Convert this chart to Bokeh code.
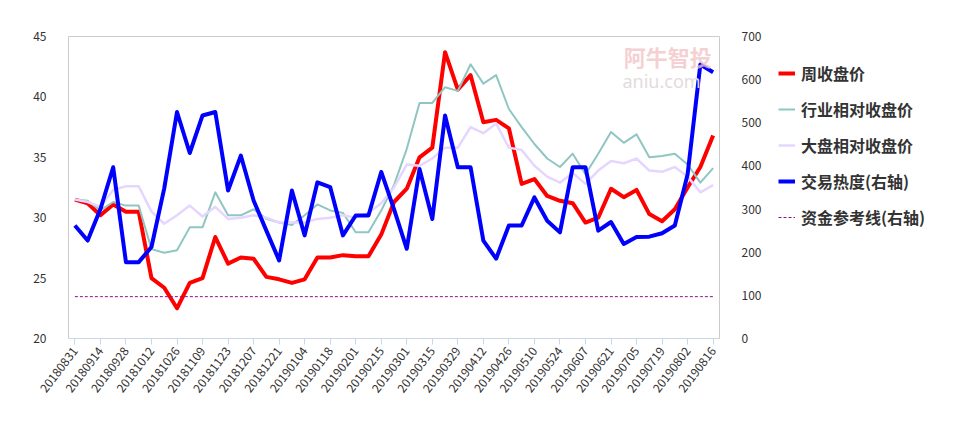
from bokeh.plotting import figure
from bokeh.models import (Range1d, LinearAxis, FixedTicker, Legend, LegendItem, Label)
from bokeh.layouts import row
from bokeh.embed import file_html
from bokeh.resources import INLINE

dates = ["20180831","20180907","20180914","20180921","20180928","20181005","20181012","20181019",
         "20181026","20181102","20181109","20181116","20181123","20181130","20181207","20181214",
         "20181221","20181228","20190104","20190111","20190118","20190125","20190201","20190208",
         "20190215","20190222","20190301","20190308","20190315","20190322","20190329","20190405",
         "20190412","20190419","20190426","20190503","20190510","20190517","20190524","20190531",
         "20190607","20190614","20190621","20190628","20190705","20190712","20190719","20190726",
         "20190802","20190809","20190816"]

week_close = [31.5,31.2,30.2,31.1,30.5,30.5,25.0,24.2,22.5,24.6,
              25.0,28.4,26.2,26.7,26.6,25.1,24.9,24.6,24.9,26.7,
              26.7,26.9,26.8,26.8,28.6,31.3,32.4,35.0,35.8,43.7,
              40.6,41.8,37.9,38.1,37.4,32.8,33.2,31.8,31.4,31.2,
              29.6,30.0,32.4,31.7,32.3,30.3,29.7,30.7,32.5,34.2,36.8]

industry_rel = [31.5,31.4,30.6,31.3,31.0,31.0,27.4,27.1,27.3,29.2,
                29.2,32.1,30.2,30.2,30.7,29.9,29.6,29.4,30.2,31.1,
                30.6,30.4,28.8,28.8,30.6,32.7,35.7,39.5,39.5,40.8,
                40.5,42.7,41.1,41.8,39.0,37.5,36.1,34.9,34.2,35.3,
                33.6,35.3,37.1,36.2,36.9,35.0,35.1,35.3,34.4,32.9,34.1]

market_rel = [31.5,31.3,30.9,32.3,32.6,32.6,30.5,29.5,30.2,31.0,
              30.1,30.9,29.9,30.0,30.2,30.0,29.6,29.6,29.6,29.9,
              30.0,30.2,30.0,30.4,31.2,32.5,34.4,34.3,34.9,35.8,
              35.8,37.5,37.0,37.8,35.8,35.6,34.3,33.4,32.9,33.7,
              32.8,33.9,34.7,34.5,34.9,33.9,33.8,34.2,33.4,32.1,32.7]

heat = [262,227,300,397,177,177,212,348,525,430,
        517,525,343,424,320,250,181,343,239,362,
        351,239,285,285,386,300,208,393,277,517,
        397,397,227,185,262,262,327,273,246,397,
        397,250,270,219,235,236,244,262,380,635,617]

fund_ref_level = 97
fund_ref = [fund_ref_level] * len(dates)

left_ticks = [20, 25, 30, 35, 40, 45]
right_ticks = [0, 100, 200, 300, 400, 500, 600, 700]

series_names = ["周收盘价", "行业相对收盘价", "大盘相对收盘价", "交易热度(右轴)", "资金参考线(右轴)"]
styles = [
    dict(line_color="#ff0000", line_width=4),
    dict(line_color="#8fc6c2", line_width=2),
    dict(line_color="#e6d6ff", line_width=2.5),
    dict(line_color="#0000ff", line_width=4),
    dict(line_color="#8b108b", line_width=1, line_dash="3 2"),
]

idx = list(range(len(dates)))
FONT = "Noto Sans CJK SC"
H = 413

p = figure(frame_width=651, frame_height=302, output_backend="svg", toolbar_location=None,
           x_range=Range1d(-0.5, len(dates) - 0.5), y_range=Range1d(20, 45),
           min_border_left=68, min_border_right=50, min_border_top=36, min_border_bottom=75)
p.extra_y_ranges = {"heat": Range1d(0, 700)}
p.outline_line_color = "#cccccc"
p.xgrid.visible = False
p.ygrid.visible = False
p.background_fill_color = "white"

# x axis
xa = p.xaxis[0]
xa.ticker = FixedTicker(ticks=idx[::2])
xa.major_label_overrides = {i: dates[i] for i in idx[::2]}
xa.major_label_orientation = 0.92
xa.minor_tick_line_color = None
xa.major_tick_in = 0
xa.major_tick_out = 6
xa.major_tick_line_color = "#ccd6eb"
xa.axis_line_color = "#ccd6eb"
xa.major_label_text_font = FONT
xa.major_label_text_font_size = "12px"
xa.major_label_text_color = "#333333"
xa.major_label_standoff = 4

# left axis
ya = p.yaxis[0]
ya.ticker = FixedTicker(ticks=left_ticks)
ya.axis_line_color = None
ya.major_tick_line_color = None
ya.minor_tick_line_color = None
ya.major_label_standoff = 16
ya.major_label_text_font = FONT
ya.major_label_text_font_size = "12px"
ya.major_label_text_color = "#333333"

# right axis
ra = LinearAxis(y_range_name="heat", ticker=FixedTicker(ticks=right_ticks))
ra.axis_line_color = None
ra.major_tick_line_color = None
ra.minor_tick_line_color = None
ra.major_label_standoff = 16
ra.major_label_text_font = FONT
ra.major_label_text_font_size = "12px"
ra.major_label_text_color = "#333333"
p.add_layout(ra, "right")

# watermark
p.add_layout(Label(x=43.0, y=43.4, text="阿牛智投", text_font=FONT, text_font_size="22px",
                   text_font_style="bold", text_color="#f3c4c6", text_baseline="middle",
                   text_alpha=0.8))
p.add_layout(Label(x=42.9, y=41.3, text="aniu.com", text_font="Noto Sans", text_font_size="18px",
                   text_color="#e2dcdc", text_baseline="middle"))

p.line(idx, week_close, line_join="round", **styles[0])
p.line(idx, industry_rel, line_join="round", **styles[1])
p.line(idx, market_rel, line_join="round", **styles[2])
p.line(idx, heat, y_range_name="heat", line_join="round", **styles[3])
p.line(idx, fund_ref, y_range_name="heat", **styles[4])

# legend panel (separate figure to the right)
lg = figure(width=185, height=H, output_backend="svg", toolbar_location=None,
            x_range=Range1d(0, 1), y_range=Range1d(0, 1),
            x_axis_type=None, y_axis_type=None,
            min_border_left=0, min_border_right=0, min_border_top=0, min_border_bottom=0)
lg.outline_line_color = None
lg.xgrid.visible = False
lg.ygrid.visible = False
nan = float("nan")
items = []
for name, st in zip(series_names, styles):
    r = lg.line([nan], [nan], **st)
    items.append(LegendItem(label=name, renderers=[r]))

legend = Legend(items=items, location=(9, 103))
legend.padding = 0
legend.margin = 0
legend.spacing = 0
legend.glyph_width = 17
legend.glyph_height = 36
legend.label_height = 36
legend.label_standoff = 6
legend.border_line_color = None
legend.background_fill_alpha = 0
legend.label_text_font = FONT
legend.label_text_font_size = "16px"
legend.label_text_font_style = "bold"
legend.label_text_color = "#333333"
legend.label_text_baseline = "middle"
lg.add_layout(legend)

layout = row(p, lg)
open("out.html", "w").write(file_html(layout, INLINE))
